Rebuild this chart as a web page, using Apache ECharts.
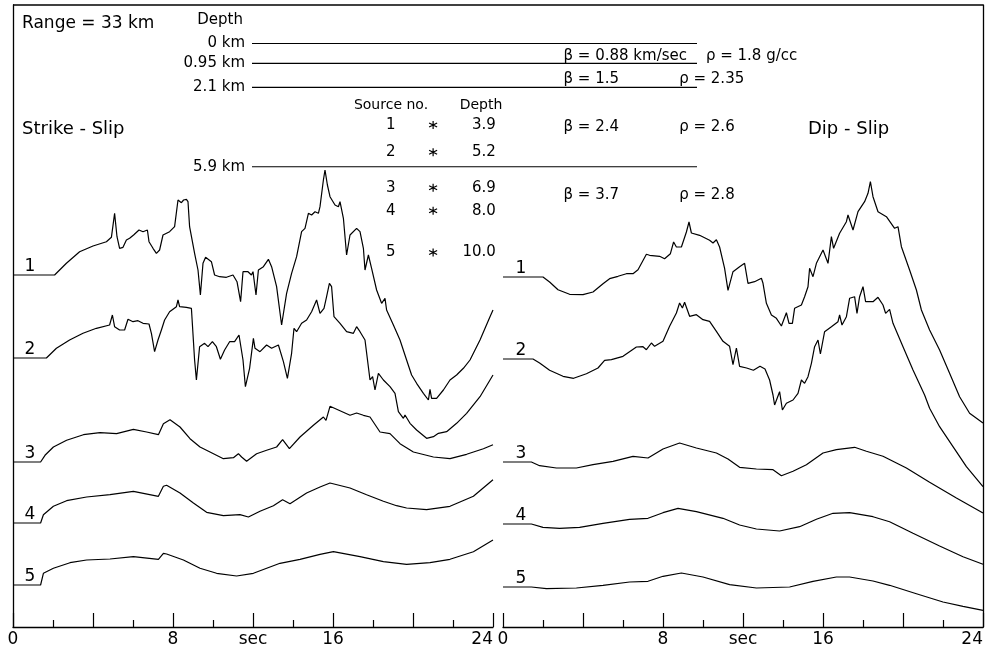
<!DOCTYPE html>
<html><head><meta charset="utf-8">
<script src="https://cdn.jsdelivr.net/npm/echarts@6/dist/echarts.min.js"></script>
<style>html,body{margin:0;padding:0;background:#fff}#c{width:997px;height:652px}</style>
</head><body><div id="c"></div>
<script>
// ---- DATA: time (sec) vs. relative displacement amplitude (arbitrary units) ----
const strikeSlip1 = [[0,0],[2.08,0],[2.67,11.7],[3.33,23.3],[4.0,29],[4.67,33.3],[4.92,37.7],[5.08,61.7],[5.2,38.3],[5.33,26.7],[5.5,27.7],[5.67,35],[5.83,36.7],[6.03,40],[6.3,45],[6.5,43.3],[6.72,45],[6.8,33.3],[7.0,26.7],[7.17,21.7],[7.33,25],[7.5,40],[7.83,43.3],[8.08,48.3],[8.25,75],[8.42,72.3],[8.53,75],[8.67,75.7],[8.75,73.3],[8.83,48.3],[9.08,21.7],[9.25,5],[9.37,-20],[9.5,11.7],[9.63,17.7],[9.92,13.3],[10.08,0],[10.33,-1.7],[10.67,-2.3],[11.0,0],[11.2,-6.7],[11.38,-26.7],[11.5,3.3],[11.75,3.3],[11.92,0],[12.0,3.3],[12.15,-20],[12.27,5],[12.52,8.3],[12.77,15.7],[12.93,8.3],[13.18,-11.7],[13.43,-50],[13.68,-18.3],[13.93,1.7],[14.18,18.3],[14.43,43.3],[14.6,46.7],[14.77,61.7],[14.93,60],[15.1,63.3],[15.27,61.7],[15.35,68.3],[15.52,95],[15.6,105],[15.72,90],[15.85,78.3],[16.1,70],[16.27,68.3],[16.35,73.3],[16.52,56.7],[16.68,20],[16.85,40],[17.18,46.7],[17.35,43.3],[17.52,26.7],[17.6,5],[17.77,20],[17.93,6.7],[18.18,-15],[18.43,-28.3],[18.6,-23.3],[18.68,-35],[19.02,-50],[19.35,-65],[19.68,-85],[19.93,-100],[20.18,-108.3],[20.52,-118.3],[20.77,-125],[20.85,-114.3],[20.93,-123.3],[21.18,-123.3],[21.52,-115],[21.85,-105],[22.18,-100],[22.52,-93.3],[22.85,-85],[23.35,-65],[23.85,-41.7],[24,-35]];
const strikeSlip2 = [[0,0],[1.67,0],[2.17,9.7],[2.83,18],[3.5,24.7],[4.17,29.7],[4.83,33],[4.97,43],[5.08,31.3],[5.33,28],[5.58,28],[5.75,38.7],[6.0,36.3],[6.25,37.3],[6.5,34.7],[6.8,34],[6.92,24.7],[7.08,6.3],[7.25,18],[7.42,28],[7.58,38],[7.83,46.3],[8.17,51.3],[8.25,58],[8.33,51.3],[8.67,50.7],[8.92,49.7],[9.08,-2],[9.17,-22],[9.33,11.3],[9.58,14.7],[9.75,11.3],[9.97,16.3],[10.17,11.3],[10.37,-1.3],[10.58,8],[10.83,16.3],[11.08,16.3],[11.3,23],[11.5,-2],[11.62,-28.7],[11.83,-10.3],[12.02,19.7],[12.1,9.7],[12.35,6.3],[12.68,13],[12.93,9.7],[13.27,13],[13.52,-3.7],[13.72,-20.3],[13.93,4.7],[14.05,29.7],[14.18,26.3],[14.43,34.7],[14.68,38],[14.93,46.3],[15.18,58],[15.35,44.7],[15.55,49.7],[15.68,61.3],[15.82,74.7],[15.93,71.3],[16.05,41.3],[16.35,34.7],[16.68,26.3],[17.02,24.7],[17.18,31.3],[17.35,26.3],[17.6,18],[17.85,-22],[17.98,-18.7],[18.1,-32],[18.27,-15.3],[18.52,-22],[18.85,-28.7],[19.1,-35.3],[19.27,-53.7],[19.52,-60.3],[19.6,-57],[19.85,-65.3],[20.18,-72],[20.68,-80.3],[21.02,-78.7],[21.27,-75.3],[21.68,-73.7],[22.18,-65.3],[22.68,-55.3],[23.35,-38.7],[24,-17]];
const strikeSlip3 = [[0,0],[1.38,0],[1.6,6.7],[2.02,15],[2.68,21.7],[3.52,27.3],[4.35,29.3],[5.18,28.3],[6.02,32.7],[6.68,30],[7.27,27.3],[7.52,38.3],[7.85,42.3],[8.35,35],[8.85,23.3],[9.35,15],[9.85,10],[10.52,3.3],[11.02,4.3],[11.27,8.3],[11.43,5],[11.68,0.7],[12.18,8.3],[12.68,11.7],[13.18,15],[13.48,22.3],[13.82,13.3],[14.35,25],[15.02,36.7],[15.52,45],[15.65,41.7],[15.85,55.7],[16.85,46.7],[17.18,49],[17.52,46.7],[17.85,45],[18.35,30],[18.85,28.3],[19.35,18.3],[20.02,10],[21.02,5],[21.85,3.3],[22.68,7.7],[23.52,13.3],[24,17.3]];
const strikeSlip4 = [[0,0],[1.38,0],[1.52,8.3],[2.02,16.7],[2.68,22.3],[3.68,26],[4.85,28.3],[6.02,31.7],[7.27,26.7],[7.52,36.7],[7.68,37.7],[8.35,30],[9.02,20],[9.68,10.7],[10.52,7.3],[11.35,8.3],[11.77,6],[12.35,11.7],[13.02,17.3],[13.48,23.3],[13.85,19.3],[14.68,30],[15.35,36],[15.85,40],[16.85,35],[17.68,28.3],[18.52,21.7],[19.18,17.3],[19.68,15],[20.68,13.3],[21.85,16.7],[23.02,26.7],[24,43.3]];
const strikeSlip5 = [[0,0],[1.38,0],[1.52,11.7],[2.02,16.7],[2.85,22.3],[3.68,25],[4.85,26],[6.02,28.3],[7.27,25.7],[7.52,31.7],[7.68,31],[8.52,25],[9.35,16.7],[10.18,11.7],[11.18,9],[12.02,11.7],[13.35,21.7],[14.35,25.7],[15.35,30.7],[16.02,33.3],[17.35,28.3],[18.52,23.3],[19.68,20.7],[20.85,22.3],[21.85,25.7],[23.02,33.3],[24,45]];
const dipSlip1 = [[0,0],[2.0,0],[2.33,-5],[2.75,-12.7],[3.33,-17.3],[4.0,-17.7],[4.5,-15],[5.0,-6.7],[5.33,-1.7],[5.75,0.7],[6.17,3.3],[6.5,3.3],[6.75,7.3],[7.17,22.7],[7.33,21.7],[7.83,20.7],[8.08,18.3],[8.37,23.3],[8.53,35],[8.67,30],[8.92,30],[9.17,45],[9.3,55],[9.42,44],[9.83,41.7],[10.33,36.7],[10.5,34],[10.67,37.3],[10.83,30],[11.08,8.7],[11.25,-13.3],[11.5,5.3],[11.83,10.3],[12.08,13.7],[12.25,-6.3],[12.58,-4.7],[12.92,-1.3],[13.0,-6.3],[13.17,-26.3],[13.42,-38],[13.67,-41.3],[13.92,-49],[14.17,-35.7],[14.3,-46.3],[14.47,-46.3],[14.58,-31.3],[14.92,-28],[15.08,-19.7],[15.25,-9.7],[15.33,8.7],[15.5,0.3],[15.67,13.7],[16.0,27],[16.25,13.7],[16.42,40.3],[16.53,28.7],[16.83,43.7],[17.17,55.3],[17.25,62],[17.5,47],[17.75,65.3],[18.08,75.3],[18.25,83.7],[18.37,95.3],[18.5,80.3],[18.75,65.3],[19.17,60.3],[19.58,48.7],[19.75,50.3],[19.92,30.3],[20.33,7],[20.67,-13],[20.92,-33],[21.33,-53],[21.83,-73],[22.33,-96.3],[22.83,-119.7],[23.33,-136.3],[24,-146]];
const dipSlip2 = [[0,0],[1.5,0],[1.83,-4],[2.33,-11.3],[3.0,-17.3],[3.53,-19.3],[4.17,-14.7],[4.75,-9],[5.08,-1.3],[5.42,-0.7],[6.0,2.7],[6.67,12],[7.0,12.3],[7.17,9.3],[7.42,16],[7.58,12.7],[8.0,17.7],[8.33,32.7],[8.67,46],[8.83,56],[8.97,51],[9.08,56.7],[9.33,42.7],[9.67,44.3],[10.0,39.3],[10.33,37.7],[10.67,27.7],[11.0,17.7],[11.33,12.7],[11.5,-5.7],[11.67,11],[11.83,-7.3],[12.18,-9],[12.52,-11.3],[12.85,-7.3],[13.1,-10],[13.33,-21],[13.5,-36],[13.58,-46],[13.83,-32.7],[13.97,-51],[14.17,-44.3],[14.5,-41],[14.75,-34.3],[14.92,-21],[15.08,-24.3],[15.25,-17.7],[15.42,-4.3],[15.58,12.3],[15.75,19],[15.87,5],[16.08,27.3],[16.42,32.3],[16.75,37.3],[16.83,44],[16.95,34],[17.17,42.3],[17.33,60.7],[17.58,62.3],[17.7,45.7],[17.83,62.3],[18.0,72.3],[18.13,57.3],[18.5,57.3],[18.75,61.7],[19.0,54],[19.13,45.7],[19.33,49.7],[19.5,35.7],[20.0,12.3],[20.5,-11],[21.08,-36],[21.33,-49.3],[21.83,-67.7],[22.5,-87.7],[23.17,-107.7],[24,-127.7]];
const dipSlip3 = [[0,0],[1.42,0],[1.83,-3.7],[2.67,-6],[3.67,-6],[4.5,-2.7],[5.5,0.7],[6.5,5.7],[7.25,4],[8.0,13],[8.83,19],[9.67,14],[10.67,9],[11.25,3],[11.83,-5.3],[12.67,-7],[13.5,-7.7],[13.92,-13.7],[14.5,-9.3],[15.17,-2.7],[16.0,9],[16.67,12.3],[17.58,14.7],[18.17,10.7],[19.0,5.7],[20.17,-6],[21.33,-20.3],[22.67,-36],[24,-51]];
const dipSlip4 = [[0,0],[1.42,0],[2.0,-3.3],[2.83,-4.3],[3.83,-3.3],[5.0,0.7],[6.33,4.7],[7.25,5.7],[8.0,11.3],[8.75,15.7],[9.67,12.3],[11.0,5.7],[11.83,-1],[12.67,-5],[13.83,-7],[14.83,-2.7],[15.67,4.7],[16.5,10.7],[17.33,11.3],[18.5,7.3],[19.33,2.3],[20.5,-9.3],[21.83,-22],[23.0,-32.7],[24,-40.3]];
const dipSlip5 = [[0,0],[1.42,0],[2.17,-1.7],[3.67,-1],[5.0,1.7],[6.33,5],[7.25,5.7],[8.0,10.7],[8.92,14],[10.0,10],[11.33,2.3],[12.67,-1],[14.33,0],[15.5,5.7],[16.67,10],[17.33,10],[18.5,6],[19.33,1.7],[20.67,-6.7],[22.0,-15],[23.0,-19.3],[24,-23.3]];

const timeTickLabels = {0:'0', 8:'8', 12:'sec', 16:'16', 24:'24'};
const traceNames = ['1','2','3','4','5'];
const layerDepths = [0, 0.95, 2.1, 5.9];              // km
const layerDepthLabels = ['0 km','0.95 km','2.1 km','5.9 km'];
const layerBeta = ['0.88 km/sec','1.5','2.4','3.7'];   // km/sec
const layerRho = ['1.8 g/cc','2.35','2.6','2.8'];      // g/cc
const sourceNos = ['1','2','3','4','5'];
const sourceDepths = [3.9, 5.2, 6.9, 8.0, 10.0];       // km

// ---- LAYOUT (not data) ----
const offL = [352, 269, 165, 104, 42];
const offR = [350, 268, 165, 103, 40];
const betaRowDepth = [0.62, 1.68, 4.0, 7.25];
const FONT = 'DejaVu Sans';

const strike = [strikeSlip1, strikeSlip2, strikeSlip3, strikeSlip4, strikeSlip5];
const dip = [dipSlip1, dipSlip2, dipSlip3, dipSlip4, dipSlip5];
const shift = (arr, o) => arr.map(p => [p[0], p[1] + o]);

function timeAxis(gi) {
  return {
    type: 'value', gridIndex: gi, min: 0, max: 24, interval: 4,
    axisLine: {show: true, onZero: false, lineStyle: {color: '#000', width: 1.3}},
    axisTick: {show: true, inside: true, length: 14, lineStyle: {color: '#000', width: 1.2}},
    minorTick: {show: true, splitNumber: 2, length: 7, lineStyle: {color: '#000', width: 1.2}},
    splitLine: {show: false}, minorSplitLine: {show: false},
    axisLabel: {show: true, margin: 4, color: '#000', fontFamily: FONT, fontSize: 17,
      alignMaxLabel: 'right',
      formatter: v => timeTickLabels[v] !== undefined ? timeTickLabels[v] : ''}
  };
}
function ampAxis(gi, pos) {
  return {
    type: 'value', gridIndex: gi, min: 0, max: 622, position: pos,
    axisLine: {show: true, onZero: false, lineStyle: {color: '#000', width: 1.3}},
    axisTick: {show: false}, axisLabel: {show: false}, splitLine: {show: false}
  };
}

const series = [];
const lineStyle = {color: '#000', width: 1.2};
const solid = {opacity: 1, color: '#000'};
strike.forEach((d, i) => series.push({type: 'line', xAxisIndex: 0, yAxisIndex: 0, data: shift(d, offL[i]),
  showSymbol: false, symbol: 'none', lineStyle, silent: true}));
dip.forEach((d, i) => series.push({type: 'line', xAxisIndex: 1, yAxisIndex: 1, data: shift(d, offR[i]),
  showSymbol: false, symbol: 'none', lineStyle, silent: true}));
const numLabel = {show: true, position: 'top', distance: 0, color: '#000', fontFamily: FONT, fontSize: 17};
series.push({type: 'scatter', xAxisIndex: 0, yAxisIndex: 0, symbolSize: 0, itemStyle: solid,
  data: traceNames.map((n, i) => ({value: [0.85, offL[i]], label: {formatter: n}})), label: numLabel});
series.push({type: 'scatter', xAxisIndex: 1, yAxisIndex: 1, symbolSize: 0, itemStyle: solid,
  data: traceNames.map((n, i) => ({value: [0.9, offR[i]], label: {formatter: n}})), label: numLabel});

// depth structure panel (grid 2): x 0..1 across the layer lines, y = depth km
const txt = {color: '#000', fontFamily: FONT, fontSize: 15};
layerDepths.forEach((dep, i) => series.push({type: 'line', xAxisIndex: 2, yAxisIndex: 2,
  data: [[0, dep], [1, dep]], showSymbol: false, symbol: 'none', lineStyle: {color: '#000', width: 1.1}, silent: true}));
series.push({type: 'scatter', xAxisIndex: 2, yAxisIndex: 2, symbolSize: 0, clip: false, itemStyle: solid,
  data: layerDepths.map((dep, i) => ({value: [0, dep], label: {formatter: layerDepthLabels[i]}})),
  label: Object.assign({show: true, position: 'left', distance: 7}, txt)});
series.push({type: 'scatter', xAxisIndex: 2, yAxisIndex: 2, symbolSize: 0, clip: false, itemStyle: solid,
  data: layerBeta.map((b, i) => ({value: [0.7, betaRowDepth[i]], label: {formatter: 'β = ' + b}})),
  label: Object.assign({show: true, position: 'right', distance: 0}, txt)});
series.push({type: 'scatter', xAxisIndex: 2, yAxisIndex: 2, symbolSize: 0, clip: false, itemStyle: solid,
  data: layerRho.map((r, i) => ({value: [i === 0 ? 1.02 : 0.96, betaRowDepth[i]], label: {formatter: 'ρ = ' + r}})),
  label: Object.assign({show: true, position: 'right', distance: 0}, txt)});
// sources
series.push({type: 'scatter', xAxisIndex: 2, yAxisIndex: 2, clip: false,
  symbol: 'path://M0,-5L0,5M-4.33,-2.5L4.33,2.5M-4.33,2.5L4.33,-2.5', symbolSize: 8,
  itemStyle: {color: 'none', borderColor: '#000', borderWidth: 1.2, opacity: 1},
  data: sourceDepths.map(d => [0.407, d])});
series.push({type: 'scatter', xAxisIndex: 2, yAxisIndex: 2, symbolSize: 0, clip: false, itemStyle: solid,
  data: sourceNos.map((n, i) => ({value: [0.312, sourceDepths[i]], label: {formatter: n}})),
  label: Object.assign({show: true, position: 'inside'}, txt)});
series.push({type: 'scatter', xAxisIndex: 2, yAxisIndex: 2, symbolSize: 0, clip: false, itemStyle: solid,
  data: sourceDepths.map(d => ({value: [0.548, d], label: {formatter: d.toFixed(1)}})),
  label: Object.assign({show: true, position: 'left', distance: 0}, txt)});

const option = {
  animation: false,
  backgroundColor: '#fff',
  grid: [
    {left: 13, top: 5, width: 480, height: 622},
    {left: 503, top: 5, width: 480, height: 622},
    {left: 252, top: 43.5, width: 445, height: 209}
  ],
  xAxis: [timeAxis(0), timeAxis(1),
    {type: 'value', gridIndex: 2, min: 0, max: 1, show: false}],
  yAxis: [ampAxis(0, 'left'), ampAxis(1, 'right'),
    {type: 'value', gridIndex: 2, min: 0, max: 10, inverse: true, show: false}],
  series,
  graphic: [
    {type: 'line', shape: {x1: 13, y1: 5, x2: 983, y2: 5}, style: {stroke: '#000', lineWidth: 1.3}, silent: true},
    {type: 'text', left: 22, top: 15, style: {text: 'Range = 33 km', font: '17px "DejaVu Sans"', fill: '#000'}},
    {type: 'text', left: 22, top: 120, style: {text: 'Strike - Slip', font: '18px "DejaVu Sans"', fill: '#000'}},
    {type: 'text', left: 808, top: 120, style: {text: 'Dip - Slip', font: '18px "DejaVu Sans"', fill: '#000'}},
    {type: 'text', x: 243, y: 20, style: {text: 'Depth', font: '15px "DejaVu Sans"', fill: '#000', align: 'right', verticalAlign: 'middle'}},
    {type: 'text', x: 391, y: 105, style: {text: 'Source no.', font: '14px "DejaVu Sans"', fill: '#000', align: 'center', verticalAlign: 'middle'}},
    {type: 'text', x: 481, y: 105, style: {text: 'Depth', font: '14px "DejaVu Sans"', fill: '#000', align: 'center', verticalAlign: 'middle'}}
  ]
};
echarts.init(document.getElementById('c'), null, {renderer: 'canvas'}).setOption(option);
</script></body></html>
